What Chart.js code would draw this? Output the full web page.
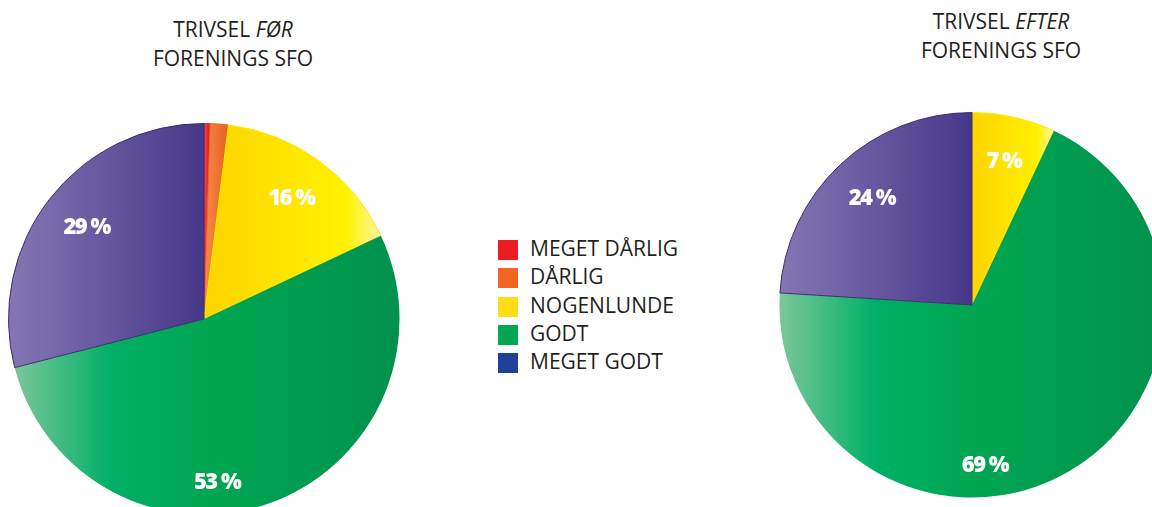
<!DOCTYPE html>
<html>
<head>
<meta charset="utf-8">
<script src="https://cdn.jsdelivr.net/npm/chart.js@4/dist/chart.umd.min.js"></script>
<style>
  html, body { margin: 0; padding: 0; background: #fff; }
  body { position: relative; width: 1152px; height: 507px; overflow: hidden; font-family: "Open Sans", sans-serif; color: #231f20; }
  .title { position: absolute; width: 300px; text-align: center; font-size: 21px; line-height: 29px; }
  .title em { font-style: italic; }
  canvas { position: absolute; }
  #legend { position: absolute; left: 498px; top: 234px; }
  .row { position: relative; height: 28.25px; line-height: 28px; font-size: 21px; padding-left: 32px; white-space: nowrap; }
  .box { position: absolute; left: 0; top: 6px; width: 20px; height: 20px; }
</style>
</head>
<body>
<div class="title" id="title-before" style="left:83px; top:15px;"></div>
<div class="title" id="title-after" style="left:851px; top:7px;"></div>
<canvas id="pie-before" width="392" height="392" style="left:8px; top:123px;"></canvas>
<canvas id="pie-after" width="386" height="386" style="left:779px; top:112px;"></canvas>
<div id="legend"></div>
<script>
// data
var categories    = ['MEGET DÅRLIG', 'DÅRLIG', 'NOGENLUNDE', 'GODT', 'MEGET GODT'];
var before_values = [0.5, 1.5, 16, 53, 29];
var after_values  = [0, 0, 7, 69, 24];
var before_title  = ['TRIVSEL', 'FØR', 'FORENINGS SFO'];
var after_title   = ['TRIVSEL', 'EFTER', 'FORENINGS SFO'];

// colours
var legend_colors = ['#ed1c24', '#f26522', '#ffde17', '#00a651', '#21409a'];
var border_colors = ['#e31e24', '#f26522', '#ffe800', 'rgba(0,0,0,0)', '#3a2f6a'];
var slice_stops = [
  [[0, '#f0454a'], [1, '#d71920']],
  [[0, '#f58a4a'], [1, '#e8601f']],
  [[0, '#ffd400'], [0.5, '#ffe600'], [0.8, '#fff100'], [1, '#fff7a8']],
  [[0, '#7cc69a'], [0.25, '#00b066'], [0.5, '#00a651'], [1, '#00914e']],
  [[0, '#8577b4'], [1, '#47378a']]
];

function fill_title(id, parts){
  document.getElementById(id).innerHTML = parts[0] + ' <em>' + parts[1] + '</em><br>' + parts[2];
}

function build_legend(){
  var el = document.getElementById('legend');
  for(var i=0;i<categories.length;i++){
    var row = document.createElement('div');
    row.className = 'row';
    row.innerHTML = '<span class="box" style="background:' + legend_colors[i] + '"></span>' + categories[i];
    el.appendChild(row);
  }
}

// horizontal gradient across the slice's own width
function slice_gradient(context){
  var chart = context.chart;
  var area  = chart.chartArea;
  var i     = context.dataIndex;
  var stops = slice_stops[i];
  if(!area) return stops[0][1];
  var data  = context.dataset.data;
  var total = 0, before = 0;
  for(var k=0;k<data.length;k++){ total += data[k]; if(k < i) before += data[k]; }
  var a0 = before / total * Math.PI * 2;
  var a1 = (before + data[i]) / total * Math.PI * 2;
  var cx = (area.left + area.right) / 2;
  var r  = Math.min(area.width, area.height) / 2;
  var xs = [cx, cx + r * Math.sin(a0), cx + r * Math.sin(a1)];
  if(a0 <= Math.PI / 2 && a1 >= Math.PI / 2) xs.push(cx + r);
  if(a0 <= Math.PI * 1.5 && a1 >= Math.PI * 1.5) xs.push(cx - r);
  var x0 = Math.min.apply(null, xs), x1 = Math.max.apply(null, xs);
  if(x1 - x0 < 1) x1 = x0 + 1;
  var g = chart.ctx.createLinearGradient(x0, 0, x1, 0);
  stops.forEach(function(s){ g.addColorStop(s[0], s[1]); });
  return g;
}

var slice_labels = {
  id: 'slice_labels',
  afterDatasetsDraw: function(chart){
    var ctx  = chart.ctx;
    var meta = chart.getDatasetMeta(0);
    var data = chart.data.datasets[0].data;
    ctx.save();
    ctx.font = '800 22px "Open Sans"';
    ctx.fillStyle = '#ffffff';
    ctx.textAlign = 'center';
    ctx.textBaseline = 'middle';
    ctx.letterSpacing = '-1.5px';
    meta.data.forEach(function(arc, i){
      if(data[i] < 5) return;
      var p   = arc.getProps(['x', 'y', 'startAngle', 'endAngle', 'outerRadius'], true);
      var mid = (p.startAngle + p.endAngle) / 2;
      var rr  = p.outerRadius * 0.76;
      var down = Math.PI / 2; // canvas angle pointing straight down
      if(p.endAngle - p.startAngle > Math.PI && p.startAngle < down && p.endAngle > down){
        // big slice that holds the bottom: label just right of the bottom
        mid = down - 0.08;
        rr  = p.outerRadius * 0.84;
      }
      ctx.fillText(Math.round(data[i]) + ' %', p.x + Math.cos(mid) * rr, p.y + Math.sin(mid) * rr);
    });
    ctx.restore();
  }
};

function create_pie(id, values){
  var pie_ctx = document.getElementById(id).getContext('2d');
  return new Chart(pie_ctx, {
    type: 'pie',
    data: {
      labels: categories,
      datasets: [{
        data: values,
        backgroundColor: slice_gradient,
        borderColor: border_colors,
        borderWidth: function(c){ return c.raw > 0 ? 1 : 0; }
      }]
    },
    options: {
      responsive: false,
      animation: false,
      layout: { padding: 0 },
      plugins: { legend: { display: false }, tooltip: { enabled: false } }
    },
    plugins: [slice_labels]
  });
}

fill_title('title-before', before_title);
fill_title('title-after', after_title);
build_legend();
create_pie('pie-before', before_values);
create_pie('pie-after', after_values);
</script>
</body>
</html>
